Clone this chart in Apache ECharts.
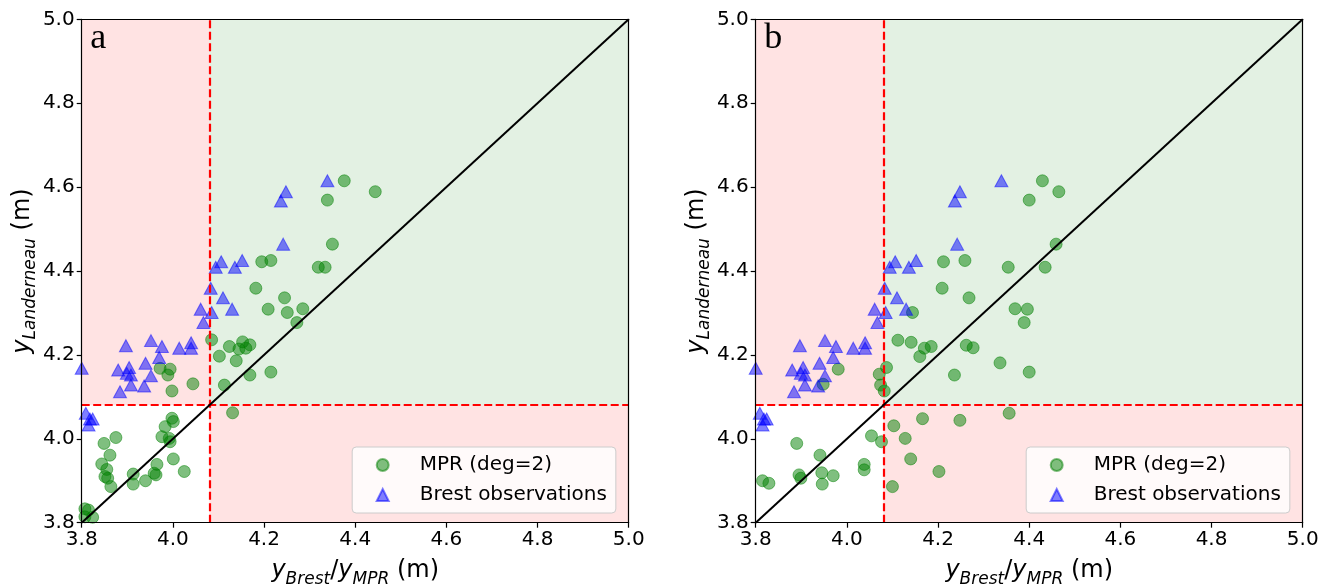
<!DOCTYPE html>
<html>
<head>
<meta charset="utf-8">
<script src="https://cdn.jsdelivr.net/npm/echarts@6/dist/echarts.min.js"></script>
<style>
html,body{margin:0;padding:0;background:#fff;}
#chart{width:1333px;height:588px;}
</style>
</head>
<body>
<div id="chart"></div>
<script>
// ---- data ----
var xTicks = [3.8, 4.0, 4.2, 4.4, 4.6, 4.8, 5.0];
var yTicks = [3.8, 4.0, 4.2, 4.4, 4.6, 4.8, 5.0];
var threshold = 4.08;
var panelLabels = ['a', 'b'];
var seriesNames = ['MPR (deg=2)', 'Brest observations'];

var mprA_x = [4.376,4.444,4.339,4.350,4.195,4.215,4.319,4.334,4.182,4.245,4.209,4.251,4.285,4.272,4.085,4.124,4.153,4.145,4.160,4.169,4.102,4.139,4.169,4.215,4.113,4.131,3.972,3.994,3.989,4.044,3.998,3.998,4.001,3.983,3.976,3.992,3.994,3.875,3.849,3.862,4.001,3.844,3.855,3.851,3.857,3.864,3.965,3.959,3.963,3.940,3.913,3.913,4.025,3.807,3.815,3.807,3.824];
var mprA_y = [4.615,4.589,4.569,4.464,4.422,4.425,4.409,4.409,4.359,4.336,4.309,4.301,4.310,4.277,4.236,4.220,4.231,4.214,4.216,4.224,4.197,4.186,4.152,4.159,4.128,4.062,4.168,4.166,4.152,4.131,4.114,4.049,4.041,4.029,4.005,4.001,3.993,4.003,3.989,3.961,3.952,3.940,3.927,3.910,3.906,3.886,3.939,3.918,3.914,3.900,3.916,3.892,3.922,3.833,3.830,3.814,3.813];

var mprB_x = [4.429,4.465,4.400,4.459,4.212,4.259,4.354,4.435,4.209,4.268,4.144,4.369,4.396,4.389,4.112,4.141,4.170,4.185,4.160,4.262,4.277,4.336,4.400,4.236,4.087,4.071,4.074,4.082,4.356,4.166,4.248,4.103,4.128,4.054,4.076,4.140,4.202,4.100,3.948,3.981,3.890,3.941,4.038,4.038,3.895,3.899,3.945,3.970,3.946,3.815,3.829];
var mprB_y = [4.615,4.589,4.569,4.464,4.422,4.425,4.409,4.409,4.359,4.336,4.301,4.310,4.309,4.277,4.235,4.230,4.216,4.220,4.196,4.223,4.217,4.181,4.159,4.152,4.170,4.154,4.128,4.114,4.061,4.048,4.044,4.031,4.001,4.007,3.993,3.952,3.922,3.886,4.130,4.166,3.989,3.961,3.939,3.926,3.914,3.906,3.919,3.912,3.892,3.900,3.894];

var brest_x = [4.339,4.248,4.237,4.242,4.106,4.094,4.152,4.136,4.083,4.110,4.061,4.130,4.085,4.067,4.014,4.040,4.040,3.952,3.897,3.976,3.970,3.940,3.880,3.904,3.899,3.908,3.952,3.908,3.937,3.884,3.800,3.809,3.818,3.824,3.815];
var brest_y = [4.615,4.589,4.567,4.464,4.422,4.409,4.425,4.409,4.359,4.336,4.309,4.309,4.301,4.277,4.216,4.229,4.216,4.234,4.222,4.220,4.194,4.180,4.164,4.170,4.156,4.152,4.150,4.128,4.126,4.112,4.168,4.061,4.047,4.047,4.033];

// ---- build ----
function zip(xs, ys) { return xs.map(function (x, i) { return [x, ys[i]]; }); }

var FONT = '"DejaVu Sans", sans-serif';
var axMin = xTicks[0], axMax = xTicks[xTicks.length - 1];
var gridLefts = [81.7, 755.7];
var GRID_TOP = 19.3, GRID_W = 547, GRID_H = 503.4;

var nameRich = {
  i: { fontFamily: FONT, fontStyle: 'italic', fontSize: 24, color: '#000', lineHeight: 24 },
  s: { fontFamily: FONT, fontStyle: 'italic', fontSize: 17, color: '#000', lineHeight: 17, padding: [16, 0, 0, 0] },
  n: { fontFamily: FONT, fontSize: 24, color: '#000', lineHeight: 24 }
};

var grids = [], xAxes = [], yAxes = [], series = [], legends = [], graphics = [];
var mprSets = [zip(mprA_x, mprA_y), zip(mprB_x, mprB_y)];
var brestSet = zip(brest_x, brest_y);

for (var p = 0; p < 2; p++) {
  grids.push({ left: gridLefts[p], top: GRID_TOP, width: GRID_W, height: GRID_H,
    containLabel: false, outerBoundsMode: 'none' });
  var lineStyle = { color: '#000', width: 1.2 };
  xAxes.push({
    gridIndex: p, type: 'value', min: axMin, max: axMax, interval: 0.2, position: 'bottom', z: 10,
    axisLine: { show: true, onZero: false, lineStyle: lineStyle },
    axisTick: { show: true, length: 5, lineStyle: lineStyle, customValues: xTicks },
    axisLabel: { fontFamily: FONT, fontSize: 20, color: '#000', margin: 7, customValues: xTicks,
      formatter: function (v) { return v.toFixed(1); } },
    splitLine: { show: false },
    name: '{i|y}{s|Brest}{n|/}{i|y}{s|MPR}{n| (m)}',
    nameLocation: 'middle', nameGap: 36,
    nameTextStyle: { rich: nameRich }
  });
  xAxes.push({
    gridIndex: p, type: 'value', min: axMin, max: axMax, position: 'top', z: 10,
    axisLine: { show: true, onZero: false, lineStyle: lineStyle },
    axisTick: { show: false }, axisLabel: { show: false }, splitLine: { show: false }
  });
  yAxes.push({
    gridIndex: p, type: 'value', min: axMin, max: axMax, interval: 0.2, position: 'left', z: 10,
    axisLine: { show: true, onZero: false, lineStyle: lineStyle },
    axisTick: { show: true, length: 5, lineStyle: lineStyle, customValues: yTicks },
    axisLabel: { fontFamily: FONT, fontSize: 20, color: '#000', margin: 7, customValues: yTicks,
      formatter: function (v) { return v.toFixed(1); } },
    splitLine: { show: false },
    name: '{i|y}{s|Landerneau}{n| (m)}',
    nameLocation: 'middle', nameRotate: 90, nameGap: 38,
    nameTextStyle: { rich: nameRich }
  });
  yAxes.push({
    gridIndex: p, type: 'value', min: axMin, max: axMax, position: 'right', z: 10,
    axisLine: { show: true, onZero: false, lineStyle: lineStyle },
    axisTick: { show: false }, axisLabel: { show: false }, splitLine: { show: false }
  });

  var xi = p * 2, yi = p * 2;
  series.push({
    type: 'scatter', xAxisIndex: xi, yAxisIndex: yi, data: [], z: 1, silent: true,
    markArea: {
      silent: true,
      data: [
        [{ coord: [axMin, threshold], itemStyle: { color: 'rgba(255,0,0,0.11)' } }, { coord: [threshold, axMax] }],
        [{ coord: [threshold, threshold], itemStyle: { color: 'rgba(0,128,0,0.11)' } }, { coord: [axMax, axMax] }],
        [{ coord: [threshold, axMin], itemStyle: { color: 'rgba(255,0,0,0.11)' } }, { coord: [axMax, threshold] }]
      ]
    }
  });
  series.push({
    name: seriesNames[0], type: 'scatter', xAxisIndex: xi, yAxisIndex: yi, z: 3,
    data: mprSets[p], symbol: 'circle', symbolSize: 12,
    itemStyle: { color: 'rgba(0,128,0,0.5)', borderColor: 'rgba(0,128,0,0.5)', borderWidth: 1, opacity: 1 }
  });
  series.push({
    name: seriesNames[1], type: 'scatter', xAxisIndex: xi, yAxisIndex: yi, z: 3,
    data: brestSet, symbol: 'triangle', symbolSize: [13, 12],
    itemStyle: { color: 'rgba(0,0,255,0.5)', borderColor: 'rgba(0,0,255,0.5)', borderWidth: 1, opacity: 1 }
  });
  series.push({
    type: 'line', xAxisIndex: xi, yAxisIndex: yi, z: 5, silent: true,
    data: [[axMin, axMin], [axMax, axMax]], showSymbol: false, symbol: 'none',
    lineStyle: { color: '#000', width: 2 },
    markLine: {
      silent: true, symbol: 'none', label: { show: false },
      lineStyle: { color: '#ff0000', width: 2.2, type: [8, 3.5] },
      data: [{ xAxis: threshold }, { yAxis: threshold }]
    }
  });

  legends.push({
    data: seriesNames, orient: 'vertical', left: gridLefts[p] + 270.5, top: 447,
    padding: [8, 9, 8, 23.5], itemGap: 10, itemWidth: 12, itemHeight: 12,
    backgroundColor: 'rgba(255,255,255,0.8)', borderColor: '#cccccc', borderWidth: 1, borderRadius: 4,
    selectedMode: false,
    textStyle: { fontFamily: FONT, fontSize: 20, color: '#000', lineHeight: 20, padding: [0, 0, 0, 26] }
  });

  graphics.push({
    type: 'text', left: gridLefts[p] + 8.5, top: 21, z: 20,
    style: { text: panelLabels[p], font: '36px "Liberation Serif", serif', fill: '#000' }
  });
}

var chart = echarts.init(document.getElementById('chart'), null, { renderer: 'canvas' });
chart.setOption({
  animation: false,
  backgroundColor: '#fff',
  grid: grids, xAxis: xAxes, yAxis: yAxes,
  legend: legends, series: series, graphic: graphics
});
</script>
</body>
</html>
